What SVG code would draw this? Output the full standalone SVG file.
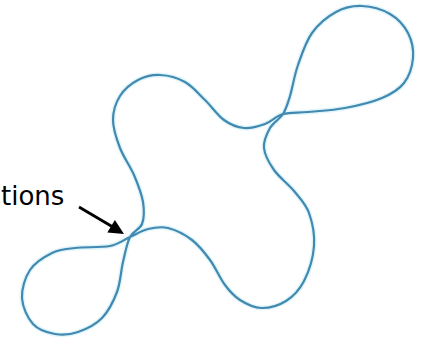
<svg xmlns="http://www.w3.org/2000/svg" width="422" height="342" viewBox="0 0 422 342">
  <defs>
    <style>
      .glow { fill: none; stroke: #cdeef7; stroke-width: 5; stroke-opacity: 0.6; stroke-linejoin: round; }
      .knot { fill: none; stroke: #4189b0; stroke-width: 2.2; stroke-linejoin: round; }
      .label { font-family: "DejaVu Sans", "Liberation Sans", sans-serif; font-size: 26px; fill: #000000; }
      .arrow { stroke: #000000; stroke-width: 2.8; fill: none; }
      .head { fill: #000000; stroke: none; }
    </style>
    <path id="knotPath" d="M130,237 C126.8,243.3 125.2,252.8 123,262 C120.8,271.2 120.5,282.7 117,292 C113.5,301.3 108.5,311.3 102,318 C95.5,324.7 85.8,329.3 78,332 C70.2,334.7 62.5,335.3 55,334 C47.5,332.7 38.5,330 33,324 C27.5,318 22.5,307 22,298 C21.5,289 25,277.5 30,270 C35,262.5 44.5,256.7 52,253 C59.5,249.3 65.3,249.2 75,248 C84.7,246.8 100.8,247.8 110,246 C119.2,244.2 123.7,239.8 130,237 C136.3,234.2 141.7,230.5 148,229 C154.3,227.5 160.7,226.2 168,228 C175.3,229.8 185,234.7 192,240 C199,245.3 204.5,252.5 210,260 C215.5,267.5 220,278.3 225,285 C230,291.7 234,296.2 240,300 C246,303.8 253.3,307.8 261,308 C268.7,308.2 278.8,305.5 286,301 C293.2,296.5 299.3,290.2 304,281 C308.7,271.8 313.2,257.3 314,246 C314.8,234.7 312.3,222.2 309,213 C305.7,203.8 299.8,198.2 294,191 C288.2,183.8 279,177.2 274,170 C269,162.8 264.7,155 264,148 C263.3,141 266.8,133.7 270,128 C273.2,122.3 279.7,119.3 283,114 C286.3,108.7 287.5,104.2 290,96 C292.5,87.8 294.3,75.5 298,65 C301.7,54.5 305.7,41.8 312,33 C318.3,24.2 327.7,16.5 336,12 C344.3,7.5 353,5.7 362,6 C371,6.3 382.3,9.5 390,14 C397.7,18.5 404.2,25.7 408,33 C411.8,40.3 413.7,49.7 413,58 C412.3,66.3 409.2,76.3 404,83 C398.8,89.7 391.8,93.8 382,98 C372.2,102.2 357.3,105.7 345,108 C332.7,110.3 318.3,111 308,112 C297.7,113 290.2,112 283,114 C275.8,116 271.5,121.7 265,124 C258.5,126.3 250.8,128.7 244,128 C237.2,127.3 230.5,124.7 224,120 C217.5,115.3 211.5,106.3 205,100 C198.5,93.7 192.5,86.2 185,82 C177.5,77.8 167.8,75.3 160,75 C152.2,74.7 144.7,76.5 138,80 C131.3,83.5 124.2,89.3 120,96 C115.8,102.7 113,111.3 113,120 C113,128.7 116.5,138.8 120,148 C123.5,157.2 130.2,166 134,175 C137.8,184 141.7,193.8 143,202 C144.3,210.2 144.2,218.2 142,224 C139.8,229.8 133.2,230.7 130,237 Z"/>
  </defs>
  <rect x="0" y="0" width="422" height="342" fill="#ffffff"/>
  <g id="knot">
    <use href="#knotPath" class="glow"/>
    <use href="#knotPath" class="knot"/>
  </g>
  <g id="label-intersections">
    <text class="label" x="1" y="205">tions</text>
  </g>
  <g id="connectors">
    <line class="arrow" x1="79" y1="207" x2="112" y2="226.5"/>
    <polygon class="head" points="124,234 107.3,232.5 114.9,219.9"/>
  </g>
</svg>
